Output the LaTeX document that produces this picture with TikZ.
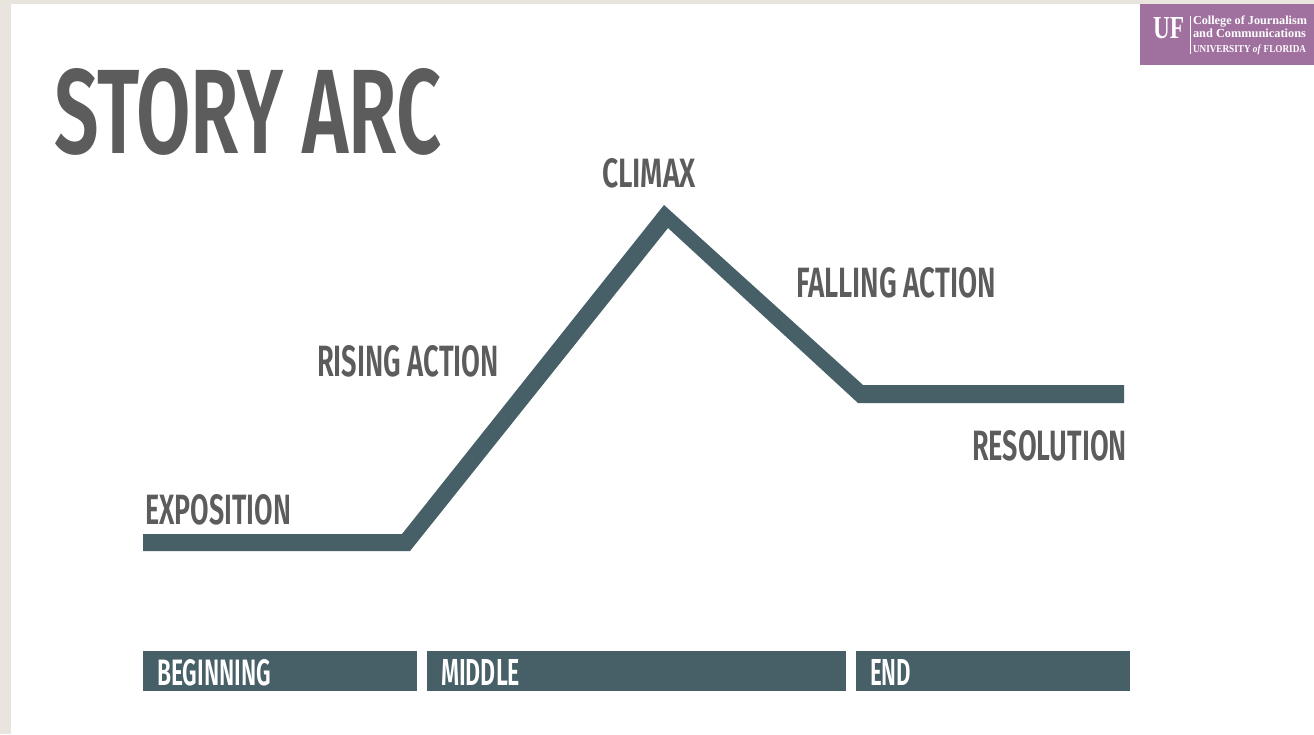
\documentclass[tikz,border=0pt]{standalone}
\usepackage{graphicx}
\usepackage{fontspec}
\setmainfont{Fira Sans}[BoldFont={Fira Sans SemiBold}]
\newfontfamily\logofont{Liberation Serif}
\newcommand{\fitbox}[3]{\resizebox{#1pt}{#2pt}{\bfseries #3}}
\definecolor{arcteal}{HTML}{475F67}
\definecolor{greytext}{HTML}{5C5C5C}
\definecolor{beige}{HTML}{E9E5DE}
\definecolor{ufpurple}{HTML}{A0709F}
\tikzset{
  lbl/.style={anchor=north west,inner sep=0pt,outer sep=0pt,text=greytext},
  barbox/.style={anchor=north west,inner sep=0pt,outer sep=0pt,fill=arcteal,draw=none},
  barlbl/.style={anchor=north west,inner sep=0pt,outer sep=0pt,text=white},
  logotxt/.style={anchor=north west,inner sep=0pt,outer sep=0pt,text=white,font=\logofont}
}
\begin{document}
\begin{tikzpicture}[x=1pt,y=-1pt]
\useasboundingbox (0,0) rectangle (1314,734);
\fill[white] (0,0) rectangle (1314,734);
\fill[beige] (0,0) rectangle (1314,4);
\fill[beige] (0,0) rectangle (11,734);
% logo
\node[anchor=north west,minimum width=174pt,minimum height=61pt,inner sep=0pt,fill=ufpurple] (logo) at (1140,4) {};
\node[logotxt] (uf) at (1153,17) {\resizebox{31pt}{21pt}{\bfseries UF}};
\draw[white,line width=0.8pt] (1190,16) -- (1190,54);
\node[logotxt] (l1) at (1193,16) {\resizebox{114pt}{!}{\bfseries College of Journalism}};
\node[logotxt] (l2) at (1193,29) {\resizebox{113pt}{!}{\bfseries and Communications}};
\node[logotxt] (l3) at (1193,45) {\resizebox{113pt}{7.5pt}{\bfseries UNIVERSITY \textit{of} FLORIDA}};
% title
\node[lbl] (title) at (54,68) {\fitbox{387}{85}{STORY ARC}};
% arc
\coordinate (a1) at (143,534);
\coordinate (b1) at (402,534);
\coordinate (c1) at (664,205);
\coordinate (d1) at (863,385);
\coordinate (e1) at (1124,385);
\coordinate (e2) at (1124,403);
\coordinate (d2) at (858,403);
\coordinate (c2) at (668,228);
\coordinate (b2) at (410,551);
\coordinate (a2) at (143,551);
\fill[arcteal] (a1) -- (b1) -- (c1) -- (d1) -- (e1) -- (e2) -- (d2) -- (c2) -- (b2) -- (a2) -- cycle;
% labels
\node[lbl] (climax) at (602,158) {\fitbox{94}{29}{CLIMAX}};
\node[lbl] (falling) at (796,267) {\fitbox{200}{30}{FALLING ACTION}};
\node[lbl] (rising) at (317,345) {\fitbox{182}{31}{RISING ACTION}};
\node[lbl] (resolution) at (972,430) {\fitbox{155}{30}{RESOLUTION}};
\node[lbl] (exposition) at (145,494) {\fitbox{146}{30}{EXPOSITION}};
% bars
\node[barbox,minimum width=274pt,minimum height=40pt] (beg) at (143,651) {};
\node[barbox,minimum width=419pt,minimum height=40pt] (mid) at (427,651) {};
\node[barbox,minimum width=274pt,minimum height=40pt] (end) at (856,651) {};
\node[barlbl] (tbeg) at (157,659) {\fitbox{114}{26}{BEGINNING}};
\node[barlbl] (tmid) at (441,659) {\fitbox{79}{26}{MIDDLE}};
\node[barlbl] (tend) at (870,659) {\fitbox{41}{26}{END}};
\end{tikzpicture}
\end{document}
